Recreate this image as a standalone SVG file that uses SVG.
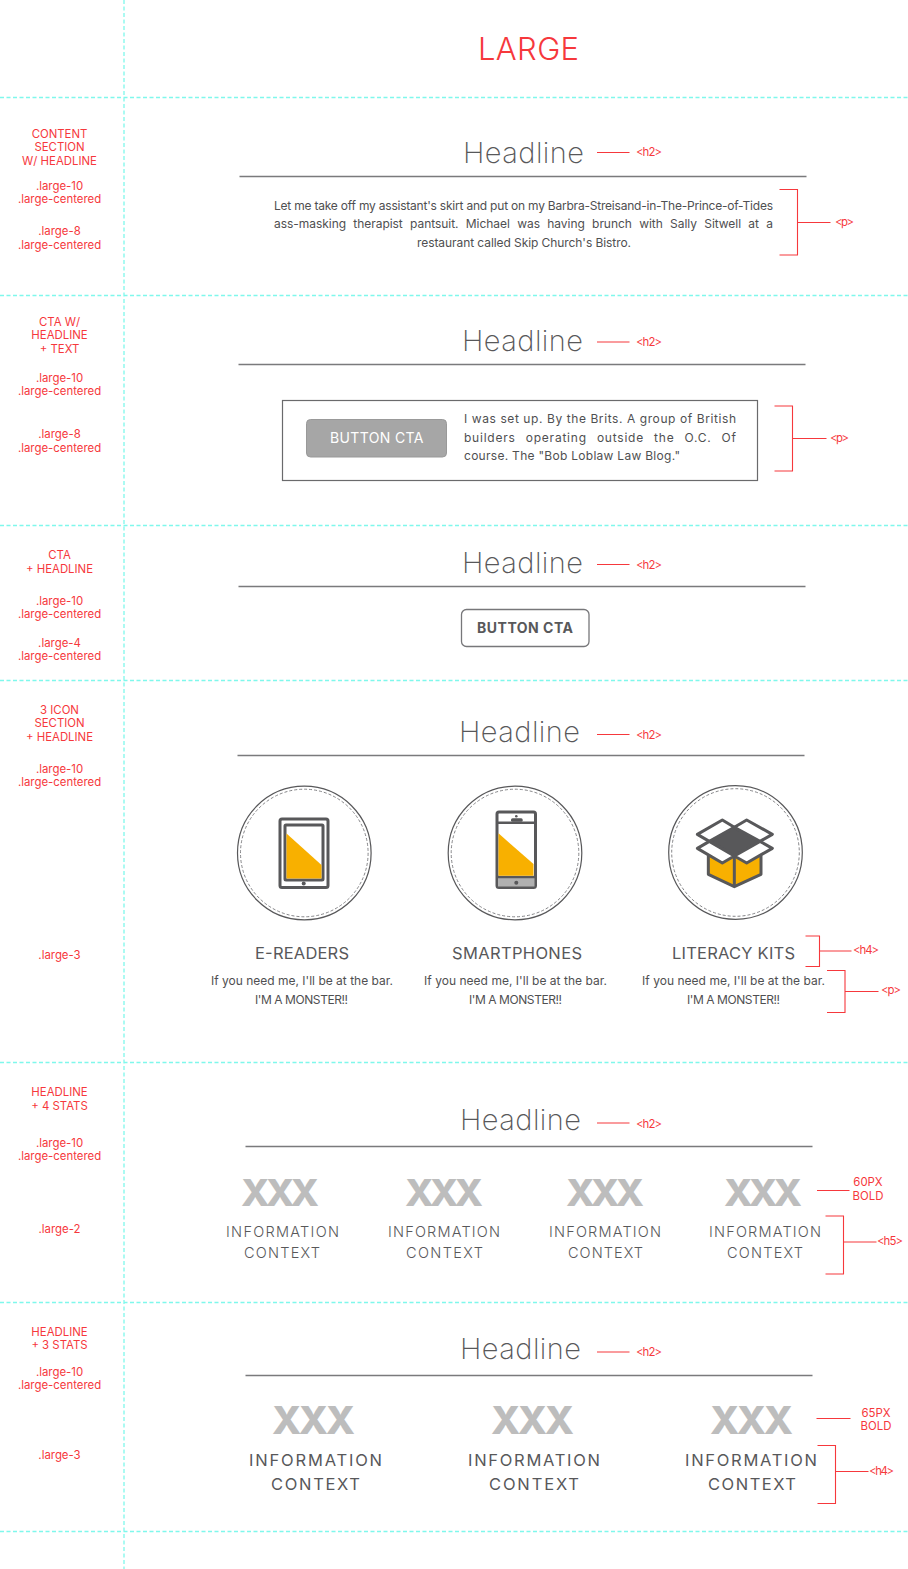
<svg xmlns="http://www.w3.org/2000/svg" width="908" height="1569" viewBox="0 0 908 1569">
<style>
text{font-family:"Inter","Lato","Liberation Sans",sans-serif;fill:#58585a}
.r{fill:#f6383c;font-size:11.400px}
.c{text-anchor:middle}
.t{fill:#f6383c;font-size:31px;font-weight:300}
.h{font-size:29px;font-weight:200}
.b{font-size:12px;font-weight:400;fill:#4f4f51}
.h4{font-size:16.500px}
.x{font-weight:800;fill:#bdbdbd;font-size:37.500px}
.x2{font-weight:800;fill:#bdbdbd;font-size:38.500px}
.i{font-size:14.500px;font-weight:350}
.i2{font-size:16.500px}
.g{stroke:#7ff8ec;stroke-width:1.300;stroke-dasharray:4 2.5;fill:none}
.a{stroke:#f6383c;stroke-width:1.100;fill:none}
.u{stroke:#7a7a7c;stroke-width:1.300;fill:none}
.d{stroke:#58585a;stroke-width:3;fill:#fff;stroke-linejoin:round}
.y{fill:#f8b000}
.ring{fill:#fff;stroke:#58585a;stroke-width:1.200}
.dash{fill:none;stroke:#77777a;stroke-width:.9;stroke-dasharray:3 2}
</style>
<rect width="908" height="1569" fill="#fff"/>
<g id="guides">
<path class="g" d="M124 0V1569M0 97.500H908M0 295.500H908M0 525.500H908M0 680.500H908M0 1062.500H908M0 1302.500H908M0 1531.500H908"/>
</g>
<g id="title"><text class="t" x="478" y="59.500" textLength="101">LARGE</text></g>

<g id="connectors">
<path class="a" d="M597 152.500H629.500M779.500 189.500H797.500V255H779.500M797.500 222.500H830.500"/>
<path class="a" d="M597 342H629.500M774.500 406H792.500V471H774.500M792.500 438.500H826.500"/>
<path class="a" d="M597 564.500H629.500"/>
<path class="a" d="M597 734.500H629.500M805.500 936H819.500V966.500H805.500M819.500 951H851.500M827 970.500H845V1012.500H827M845 991.500H878.500"/>
<path class="a" d="M597 1123H629.500M817 1190.500H849.500M825.500 1216H843.500V1274H825.500M843.500 1242H876.500"/>
<path class="a" d="M597 1352H629.500M816.500 1418.500H850.500M817.500 1445.500H835.500V1503.500H817.500M835.500 1471.500H868.500"/>
</g>

<g id="section-content">
<text class="r c" x="59.500" y="138">CONTENT</text><text class="r c" x="59.500" y="151">SECTION</text><text class="r c" x="59.500" y="165">W/ HEADLINE</text><text class="r c" x="59.500" y="190">.large-10</text><text class="r c" x="59.500" y="203">.large-centered</text><text class="r c" x="59.500" y="235">.large-8</text><text class="r c" x="59.500" y="249">.large-centered</text>
<text class="h" x="463" y="163" textLength="121">Headline</text>
<path class="u" d="M239.500 176.500H806.500"/>
<text class="r" x="636" y="156" textLength="26">&lt;h2&gt;</text>
<text class="b" x="274" y="210" textLength="499">Let me take off my assistant's skirt and put on my Barbra-Streisand-in-The-Prince-of-Tides</text>
<text class="b" x="274" y="228" textLength="499" style="word-spacing:4px">ass-masking therapist pantsuit. Michael was having brunch with Sally Sitwell at a</text>
<text class="b" x="417" y="247" textLength="214">restaurant called Skip Church's Bistro.</text>
<text class="r" x="835" y="226" textLength="19">&lt;p&gt;</text>
</g>

<g id="section-cta-text">
<text class="r c" x="59.500" y="326">CTA W/</text><text class="r c" x="59.500" y="339">HEADLINE</text><text class="r c" x="59.500" y="353">+ TEXT</text><text class="r c" x="59.500" y="382">.large-10</text><text class="r c" x="59.500" y="395">.large-centered</text><text class="r c" x="59.500" y="438">.large-8</text><text class="r c" x="59.500" y="452">.large-centered</text>
<text class="h" x="462" y="351" textLength="121">Headline</text>
<path class="u" d="M238.500 364.500H805.500"/>
<text class="r" x="636" y="346" textLength="26">&lt;h2&gt;</text>
<rect x="282.500" y="400.500" width="475" height="80" fill="#fff" stroke="#6a6a6c" stroke-width="1.200"/>
<rect x="306.500" y="419.500" width="140" height="37.500" rx="4" fill="#a6a6a6" stroke="#999" stroke-width="1"/>
<text x="330" y="443" textLength="93.500" style="fill:#fff;font-size:14px">BUTTON CTA</text>
<text class="b" x="464" y="423" textLength="272">I was set up. By the Brits. A group of British</text>
<text class="b" x="464" y="442" textLength="272" style="word-spacing:6px">builders operating outside the O.C. Of</text>
<text class="b" x="464" y="460" textLength="216">course. The "Bob Loblaw Law Blog."</text>
<text class="r" x="830" y="442" textLength="19">&lt;p&gt;</text>
</g>

<g id="section-cta-headline">
<text class="r c" x="59.500" y="559">CTA</text><text class="r c" x="59.500" y="573">+ HEADLINE</text><text class="r c" x="59.500" y="605">.large-10</text><text class="r c" x="59.500" y="618">.large-centered</text><text class="r c" x="59.500" y="647">.large-4</text><text class="r c" x="59.500" y="660">.large-centered</text>
<text class="h" x="462" y="573" textLength="121">Headline</text>
<path class="u" d="M238.500 586.500H805.500"/>
<text class="r" x="636" y="569" textLength="26">&lt;h2&gt;</text>
<rect x="461.500" y="609.500" width="127.500" height="37" rx="5" fill="#fff" stroke="#77777a" stroke-width="1.300"/>
<text x="477" y="633" textLength="96" style="font-weight:700;font-size:14px">BUTTON CTA</text>
</g>

<g id="section-3-icon">
<text class="r c" x="59.500" y="714">3 ICON</text><text class="r c" x="59.500" y="727">SECTION</text><text class="r c" x="59.500" y="741">+ HEADLINE</text><text class="r c" x="59.500" y="773">.large-10</text><text class="r c" x="59.500" y="786">.large-centered</text><text class="r c" x="59.500" y="959">.large-3</text>
<text class="h" x="459" y="742" textLength="121">Headline</text>
<path class="u" d="M237.500 755.500H804.500"/>
<text class="r" x="636" y="739" textLength="26">&lt;h2&gt;</text>
<text class="r" x="853" y="953.500" textLength="26">&lt;h4&gt;</text>
<text class="r" x="881" y="994" textLength="20">&lt;p&gt;</text>
</g>

<g id="icon-ereaders">
<circle class="ring" cx="304.300" cy="853" r="66.800"/><circle class="dash" cx="304.300" cy="853" r="63.800"/>
<rect class="d" x="280" y="819" width="48" height="68.500" rx="2"/>
<rect class="d" x="285" y="825" width="38" height="55" rx="1"/>
<path class="y" d="M286.500 833.500L321.500 865V878.500H286.500Z"/>
<circle cx="303.700" cy="883.500" r="2" fill="#58585a"/>
<text class="h4" x="255" y="959" textLength="94">E-READERS</text>
<text class="b" x="211" y="985" textLength="182">If you need me, I'll be at the bar.</text>
<text class="b" x="255" y="1004" textLength="93">I'M A MONSTER!!</text>
</g>

<g id="icon-smartphones">
<circle class="ring" cx="515" cy="853" r="66.800"/><circle class="dash" cx="515" cy="853" r="63.800"/>
<rect class="d" x="497" y="812" width="38.500" height="75.500" rx="2"/>
<path d="M498 878H534.500V886.500H498Z" fill="#b0b0b0"/>
<path d="M497 822.800H535.500M497 877H535.500" stroke="#58585a" stroke-width="2.600" fill="none"/>
<path class="y" d="M498.500 833.300L533.500 864V875.700H498.500Z"/>
<rect x="511" y="818.200" width="11.700" height="3.600" rx="1.600" fill="#58585a"/>
<circle cx="516.300" cy="816.200" r="1.300" fill="#58585a"/>
<circle cx="516.300" cy="882.700" r="2" fill="#58585a"/>
<text class="h4" x="452" y="959" textLength="130">SMARTPHONES</text>
<text class="b" x="424" y="985" textLength="183">If you need me, I'll be at the bar.</text>
<text class="b" x="469" y="1004" textLength="93">I'M A MONSTER!!</text>
</g>

<g id="icon-literacy-kits">
<circle class="ring" cx="735.500" cy="852.500" r="66.800"/><circle class="dash" cx="735.500" cy="852.500" r="63.800"/>
<g transform="translate(620 770) scale(.33333)" stroke="#58585a" stroke-width="9" stroke-linejoin="round">
<path class="y" d="M265 255L343 258L423 255V313L343 350L265 313Z" style="stroke:#58585a"/>
<path d="M343 258V350" fill="none"/>
<path d="M268 214L343 172L420 214L343 258Z" fill="#58585a"/>
<path d="M232 193L307 150L343 172L268 214Z" fill="#fff"/>
<path d="M343 172L380 150L457 193L420 214Z" fill="#fff"/>
<path d="M268 214L232 235L307 279L343 258Z" fill="#fff"/>
<path d="M420 214L457 235L380 279L343 258Z" fill="#fff"/>
</g>
<text class="h4" x="672" y="959" textLength="123">LITERACY KITS</text>
<text class="b" x="642" y="985" textLength="183">If you need me, I'll be at the bar.</text>
<text class="b" x="687" y="1004" textLength="93">I'M A MONSTER!!</text>
</g>

<g id="section-4-stats">
<text class="r c" x="59.500" y="1096">HEADLINE</text><text class="r c" x="59.500" y="1110">+ 4 STATS</text><text class="r c" x="59.500" y="1147">.large-10</text><text class="r c" x="59.500" y="1160">.large-centered</text><text class="r c" x="59.500" y="1233">.large-2</text>
<text class="h" x="460" y="1130" textLength="121">Headline</text>
<path class="u" d="M245.500 1146.500H812.500"/>
<text class="r" x="636" y="1128" textLength="26">&lt;h2&gt;</text>
<text class="x" x="241" y="1205.500" textLength="78">XXX</text><text class="x" x="405" y="1205.500" textLength="78">XXX</text><text class="x" x="566" y="1205.500" textLength="78">XXX</text><text class="x" x="724" y="1205.500" textLength="78">XXX</text>
<text class="i" x="226" y="1237" textLength="113">INFORMATION</text><text class="i" x="244" y="1258" textLength="76">CONTEXT</text>
<text class="i" x="388" y="1237" textLength="112">INFORMATION</text><text class="i" x="406" y="1258" textLength="77">CONTEXT</text>
<text class="i" x="549" y="1237" textLength="112">INFORMATION</text><text class="i" x="568" y="1258" textLength="75">CONTEXT</text>
<text class="i" x="709" y="1237" textLength="112">INFORMATION</text><text class="i" x="727" y="1258" textLength="76">CONTEXT</text>
<text class="r c" x="868" y="1186">60PX</text><text class="r c" x="868" y="1200">BOLD</text>
<text class="r" x="877" y="1245" textLength="26">&lt;h5&gt;</text>
</g>

<g id="section-3-stats">
<text class="r c" x="59.500" y="1336">HEADLINE</text><text class="r c" x="59.500" y="1349">+ 3 STATS</text><text class="r c" x="59.500" y="1376">.large-10</text><text class="r c" x="59.500" y="1389">.large-centered</text><text class="r c" x="59.500" y="1459">.large-3</text>
<text class="h" x="460" y="1359" textLength="121">Headline</text>
<path class="u" d="M245.500 1375.500H812.500"/>
<text class="r" x="636" y="1356" textLength="26">&lt;h2&gt;</text>
<text class="x2" x="272" y="1433.500" textLength="83">XXX</text><text class="x2" x="491" y="1433.500" textLength="83">XXX</text><text class="x2" x="710" y="1433.500" textLength="83">XXX</text>
<text class="i2" x="249" y="1466" textLength="133">INFORMATION</text><text class="i2" x="271" y="1490" textLength="89">CONTEXT</text>
<text class="i2" x="468" y="1466" textLength="132">INFORMATION</text><text class="i2" x="489" y="1490" textLength="90">CONTEXT</text>
<text class="i2" x="685" y="1466" textLength="132">INFORMATION</text><text class="i2" x="708" y="1490" textLength="88">CONTEXT</text>
<text class="r c" x="876" y="1417">65PX</text><text class="r c" x="876" y="1430">BOLD</text>
<text class="r" x="869" y="1475" textLength="25">&lt;h4&gt;</text>
</g>
</svg>
